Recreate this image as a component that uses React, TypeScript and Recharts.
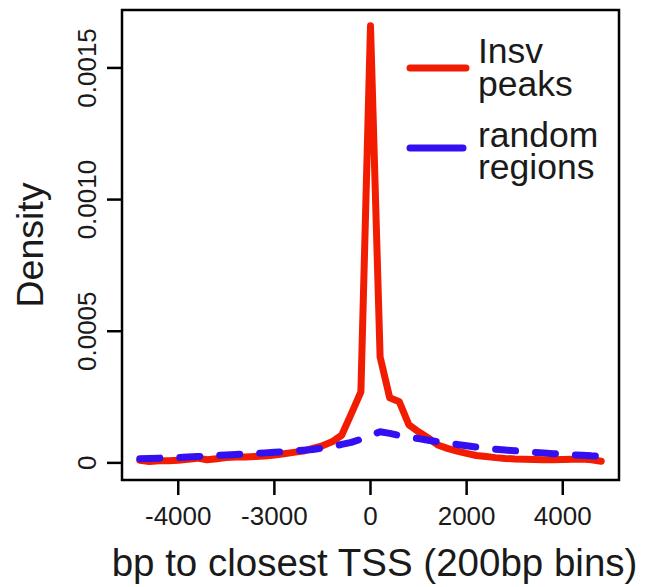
import React from 'react';
import { LineChart, Line, XAxis, YAxis, ReferenceArea, Legend, Label } from 'recharts';

// distance to closest TSS, 200bp bins
const binCenters = [
  -4800, -4600, -4400, -4200, -4000, -3800, -3600, -3400, -3200, -3000,
  -2800, -2600, -2400, -2200, -2000, -1800, -1600, -1400, -1200, -1000,
  -800, -600, -400, -200, 0, 200, 400, 600, 800, 1000,
  1200, 1400, 1600, 1800, 2000, 2200, 2400, 2600, 2800, 3000,
  3200, 3400, 3600, 3800, 4000, 4200, 4400, 4600, 4800,
];

const insvPeaks = [
  0.00001, 0.000005, 0.000008, 0.000008, 0.00001, 0.000014, 0.000018, 0.000012, 0.000016, 0.00002,
  0.000022, 0.000022, 0.000024, 0.000026, 0.00003, 0.000035, 0.00004, 0.000045, 0.000055, 0.000065,
  0.00008, 0.000105, 0.000186, 0.00027, 0.00166, 0.000402, 0.000247, 0.000232, 0.000144, 0.000118,
  0.000095, 0.000068, 0.000055, 0.000045, 0.000036, 0.000028, 0.000024, 0.00002, 0.000017, 0.000015,
  0.000014, 0.000013, 0.000012, 0.000012, 0.000013, 0.000014, 0.000015, 0.000012, 0.000006,
];

const randomRegions = [
  0.000016, 0.000017, 0.000018, 0.000019, 0.00002, 0.000022, 0.000024, 0.000026, 0.000028, 0.00003,
  0.000032, 0.000034, 0.000036, 0.000038, 0.00004, 0.000042, 0.000045, 0.000048, 0.000051, 0.000056,
  0.000062, 0.00007, 0.000078, 0.00009, 0.000105, 0.000118, 0.000112, 0.000104, 0.000098, 0.000092,
  0.000086, 0.00008, 0.000075, 0.00007, 0.000065, 0.00006, 0.000056, 0.000052, 0.000049, 0.000046,
  0.000043, 0.00004, 0.000038, 0.000035, 0.000033, 0.000031, 0.000029, 0.000027, 0.000026,
];

const xTicks = [-4000, -2000, 0, 2000, 4000];
const xTickLabels = ['-4000', '-3000', '0', '2000', '4000'];
const yTicks = [0, 0.0005, 0.001, 0.0015];
const yTickLabels = ['0', '0.0005', '0.0010', '0.0015'];

const X_DOMAIN: [number, number] = [-5170, 5170];
const Y_DOMAIN: [number, number] = [-0.000065, 0.00172];

const RED = '#F21C00';
const BLUE = '#3210F2';
const FONT = '"Liberation Sans", Arial, Helvetica, sans-serif';
const INK = '#1a1a1a';

const data = binCenters.map((bp, i) => ({
  bp,
  insv: insvPeaks[i],
  random: randomRegions[i],
}));

const XTick = (props: any) => {
  const { x, y, payload } = props;
  const label = xTickLabels[xTicks.indexOf(payload.value)];
  return (
    <text x={x} y={y + 30} textAnchor="middle" fontSize={26} fontFamily={FONT} fill={INK}>
      {label}
    </text>
  );
};

const YTick = (props: any) => {
  const { x, y, payload } = props;
  const label = yTickLabels[yTicks.indexOf(payload.value)];
  const bx = x - 11;
  return (
    <text
      x={bx}
      y={y}
      transform={`rotate(-90, ${bx}, ${y})`}
      textAnchor="middle"
      fontSize={26}
      fontFamily={FONT}
      fill={INK}
    >
      {label}
    </text>
  );
};

const XTitle = (props: any) => {
  const { viewBox } = props;
  return (
    <text x={viewBox.x + viewBox.width / 2 + 4} y={576} textAnchor="middle" fontSize={38.5} fontFamily={FONT} fill={INK}>
      bp to closest TSS (200bp bins)
    </text>
  );
};

const YTitle = () => (
  <text x={43} y={245} transform="rotate(-90, 43, 245)" textAnchor="middle" fontSize={37.5} fontFamily={FONT} fill={INK}>
    Density
  </text>
);

// R style legend box, no frame
const renderLegend = () => (
  <svg width={230} height={170}>
    <line x1={10} x2={66} y1={38} y2={38} stroke={RED} strokeWidth={7} strokeLinecap="round" />
    <line x1={10} x2={63} y1={118} y2={118} stroke={BLUE} strokeWidth={7} strokeLinecap="round" />
    <g fontSize={35.5} fontFamily={FONT} fill={INK}>
      <text x={78} y={33}>Insv</text>
      <text x={78} y={66}>peaks</text>
      <text x={78} y={117}>random</text>
      <text x={78} y={149}>regions</text>
    </g>
  </svg>
);

export default function App() {
  return (
    <div style={{ position: 'absolute', left: 0, top: 0, width: 648, height: 587, background: '#fff' }}>
      <LineChart width={648} height={587} data={data} margin={{ top: 10, right: 29, bottom: 0, left: 0 }}>
        <XAxis
          dataKey="bp"
          type="number"
          domain={X_DOMAIN}
          ticks={xTicks}
          allowDataOverflow
          axisLine={false}
          tickSize={15}
          tickMargin={0}
          tickLine={{ stroke: '#000', strokeWidth: 2.5 }}
          tick={<XTick />}
          height={107}
        >
          <Label content={<XTitle />} />
        </XAxis>
        <YAxis
          type="number"
          domain={Y_DOMAIN}
          ticks={yTicks}
          allowDataOverflow
          axisLine={false}
          tickSize={15}
          tickMargin={0}
          tickLine={{ stroke: '#000', strokeWidth: 2.5 }}
          tick={<YTick />}
          width={122}
        >
          <Label content={<YTitle />} />
        </YAxis>
        <ReferenceArea
          x1={X_DOMAIN[0]}
          x2={X_DOMAIN[1]}
          y1={Y_DOMAIN[0]}
          y2={Y_DOMAIN[1]}
          fill="none"
          stroke="#000"
          strokeWidth={2.5}
          ifOverflow="visible"
        />
        <Line
          dataKey="insv"
          type="linear"
          stroke={RED}
          strokeWidth={7}
          strokeLinecap="round"
          strokeLinejoin="round"
          dot={false}
          isAnimationActive={false}
        />
        <Line
          dataKey="random"
          type="linear"
          stroke={BLUE}
          strokeWidth={7}
          strokeDasharray="20 20"
          strokeLinecap="round"
          strokeLinejoin="round"
          dot={false}
          isAnimationActive={false}
        />
        <Legend
          layout="vertical"
          align="center"
          verticalAlign="middle"
          content={renderLegend}
          wrapperStyle={{ position: 'absolute', left: 400, top: 30, width: 230, height: 170 }}
        />
      </LineChart>
    </div>
  );
}
